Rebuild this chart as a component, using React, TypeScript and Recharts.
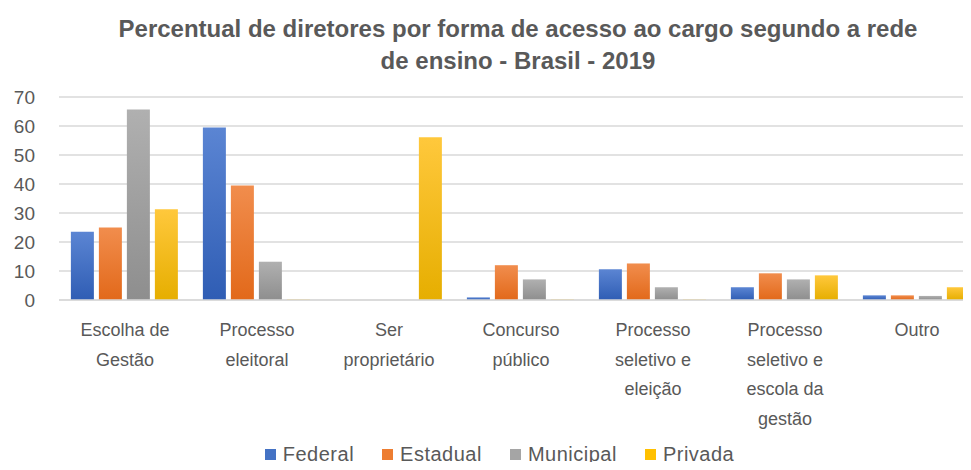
import React from 'react';
import { BarChart, Bar, XAxis, YAxis, CartesianGrid, Legend } from 'recharts';

// Categories (line breaks as shown in the original axis labels)
const CATEGORIES = [
    'Escolha de\nGestão',
    'Processo\neleitoral',
    'Ser\nproprietário',
    'Concurso\npúblico',
    'Processo\nseletivo e\neleição',
    'Processo\nseletivo e\nescola da\ngestão',
    'Outro',
];

const FEDERAL = [23.5, 59.5, 0, 0.9, 10.6, 4.4, 1.6];
const ESTADUAL = [25, 39.5, 0, 12, 12.6, 9.2, 1.6];
const MUNICIPAL = [65.7, 13.2, 0, 7.1, 4.4, 7.1, 1.4];
const PRIVADA = [31.3, 0.2, 56.1, 0.2, 0.2, 8.5, 4.4];

const Y_TICKS = [0, 10, 20, 30, 40, 50, 60, 70];

const TITLE_LINES = [
    'Percentual de diretores por forma de acesso ao cargo segundo a rede',
    'de ensino - Brasil - 2019',
];

const SERIES = [
    { key: 'Federal', color: '#4472C4', top: '#5B85D3', bottom: '#2F5DB4' },
    { key: 'Estadual', color: '#ED7D31', top: '#F18D4D', bottom: '#E2691A' },
    { key: 'Municipal', color: '#A5A5A5', top: '#B0B0B0', bottom: '#8E8E8E' },
    { key: 'Privada', color: '#FFC000', top: '#FFC83C', bottom: '#E6AE00' },
];

const FONT = '"Liberation Sans", Arial, sans-serif';
const TEXT_COLOR = '#595959';

const chartData = CATEGORIES.map((name, i) => ({
    name,
    Federal: FEDERAL[i],
    Estadual: ESTADUAL[i],
    Municipal: MUNICIPAL[i],
    Privada: PRIVADA[i],
}));

// eslint-disable-next-line @typescript-eslint/no-explicit-any
const CategoryTick = (props: any) => {
    const { x, y, payload } = props;
    const lines = String(payload.value).split('\n');
    return (
        <text x={x} y={y} textAnchor="middle" fill={TEXT_COLOR} fontSize={18} fontFamily={FONT}>
            {lines.map((line, i) => (
                <tspan key={i} x={x} dy={i === 0 ? 28 : 29.5}>
                    {line}
                </tspan>
            ))}
        </text>
    );
};

const LegendContent = () => (
    <div
        style={{
            display: 'flex',
            justifyContent: 'center',
            gap: 28,
            paddingTop: 12,
            fontFamily: FONT,
            fontSize: 20,
            letterSpacing: 0.5,
            color: TEXT_COLOR,
            lineHeight: '24px',
            paddingLeft: 16,
        }}
    >
        {SERIES.map((s) => (
            <span key={s.key} style={{ display: 'flex', alignItems: 'center' }}>
                <span
                    style={{
                        display: 'inline-block',
                        width: 11,
                        height: 11,
                        background: s.color,
                        marginRight: 7,
                    }}
                />
                {s.key}
            </span>
        ))}
    </div>
);

export default function App() {
    return (
        <div style={{ position: 'relative', margin: -8, width: 971, height: 470, overflow: 'hidden', background: '#fff' }}>
            <div
                style={{
                    position: 'absolute',
                    top: 13,
                    left: 0,
                    width: 1036,
                    textAlign: 'center',
                    fontFamily: FONT,
                    fontWeight: 'bold',
                    fontSize: 24,
                    lineHeight: '32px',
                    color: TEXT_COLOR,
                }}
            >
                {TITLE_LINES.map((t) => (
                    <div key={t}>{t}</div>
                ))}
            </div>
            <BarChart
                width={983}
                height={470}
                data={chartData}
                margin={{ top: 97, right: 0, left: 0, bottom: 0 }}
                barCategoryGap="9%"
                barGap={5}
            >
                <defs>
                    {SERIES.map((s) => (
                        <linearGradient key={s.key} id={`grad-${s.key}`} x1="0" y1="0" x2="0" y2="1">
                            <stop offset="0%" stopColor={s.top} />
                            <stop offset="100%" stopColor={s.bottom} />
                        </linearGradient>
                    ))}
                </defs>
                <CartesianGrid vertical={false} stroke="#D9D9D9" strokeWidth={1.5} />
                <XAxis
                    dataKey="name"
                    interval={0}
                    tickLine={false}
                    axisLine={{ stroke: '#D9D9D9', strokeWidth: 1.5 }}
                    height={130}
                    tick={<CategoryTick />}
                />
                <YAxis
                    domain={[0, 70]}
                    ticks={Y_TICKS}
                    width={59}
                    tickLine={false}
                    axisLine={false}
                    tick={{ fill: TEXT_COLOR, fontSize: 19, fontFamily: FONT }}
                    tickMargin={18}
                />
                <Legend
                    verticalAlign="bottom"
                    content={<LegendContent />}
                    wrapperStyle={{ height: 40, left: 0, width: 983 }}
                />
                {SERIES.map((s) => (
                    <Bar key={s.key} dataKey={s.key} fill={`url(#grad-${s.key})`} isAnimationActive={false} />
                ))}
            </BarChart>
        </div>
    );
}
